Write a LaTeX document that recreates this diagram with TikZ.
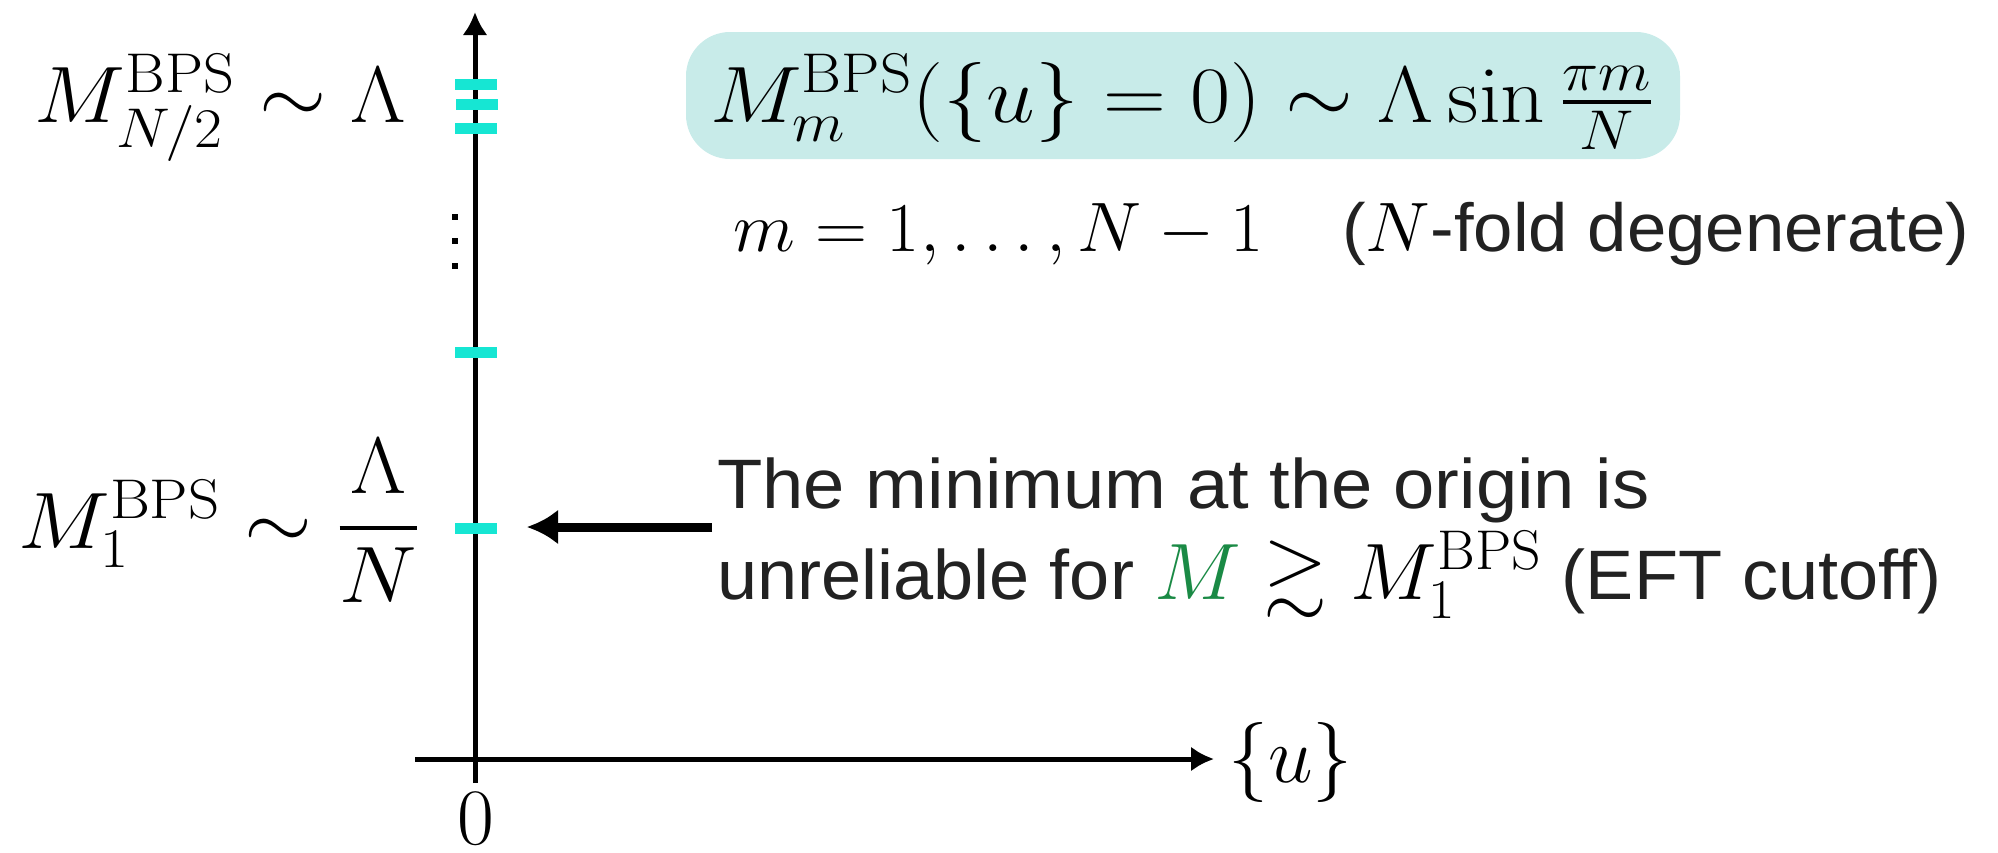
\RequirePackage{fix-cm}
\documentclass[tikz,border=0pt]{standalone}
\usepackage{graphicx}
\usepackage{amsmath,amssymb}
\usepackage[no-math]{fontspec}
\newfontfamily\txtfont{Liberation Sans}
\usetikzlibrary{arrows.meta}
\definecolor{tickc}{HTML}{16E6D3}
\definecolor{boxc}{HTML}{C8EBE9}
\definecolor{mgreen}{HTML}{1A8A45}
\definecolor{txtc}{HTML}{222222}
\newcommand{\mysz}{\fontsize{40}{48}\selectfont}
\newcommand{\midsz}{\fontsize{35}{42}\selectfont}
\newcommand{\xst}[2]{\scalebox{#1}[1]{#2}}
\tikzset{
  mathlbl/.style={inner sep=0pt, font=\mysz},
  sanslbl/.style={inner sep=0pt, text=txtc, font=\fontsize{35}{42}\selectfont\txtfont},
  tickmark/.style={rectangle, fill=tickc, inner sep=0pt, minimum width=21pt, minimum height=5.5pt},
  dotmark/.style={rectangle, fill=black, inner sep=0pt, minimum size=3.2pt},
  axisline/.style={line width=2.5pt, -{Latex[length=11.5pt,width=12.5pt]}},
  pointer/.style={line width=4.5pt, -{Latex[length=15.5pt,width=17.5pt]}},
}
\begin{document}
\begin{tikzpicture}[x=0.5pt,y=-0.5pt]
\useasboundingbox (0,0) rectangle (1998,852);
% axes
\coordinate (vb) at (475,783);
\coordinate (vt) at (475,12);
\coordinate (hl) at (415,759);
\coordinate (hr) at (1214,759);
\draw[axisline] (vb) -- (vt);
\draw[axisline] (hl) -- (hr);
% ticks
\node[tickmark] (t1) at (476,84) {};
\node[tickmark] (t2) at (477,104) {};
\node[tickmark] (t3) at (476,128) {};
\node[tickmark] (t4) at (476,352) {};
\node[tickmark] (t5) at (476,528) {};
% dots
\node[dotmark] (d1) at (455,217) {};
\node[dotmark] (d2) at (455,241) {};
\node[dotmark] (d3) at (455,266) {};
% left labels
\node[mathlbl, anchor=base east] (l1) at (406,122) {\xst{1.08}{$M^{\mathrm{BPS}}_{N/2}\sim\Lambda$}};
\node[mathlbl, anchor=base east] (l2) at (420,548) {\xst{1.09}{$M_1^{\mathrm{BPS}}\sim\dfrac{\Lambda}{N}$}};
% axis labels
\node[mathlbl, anchor=base west] (u) at (1228,782) {$\{u\}$};
\node[mathlbl, anchor=base] (zero) at (476,844) {$0$};
% box formula
\node[fill=boxc, rounded corners=22pt, minimum width=497pt, minimum height=63.5pt, inner sep=0pt] (box) at (1183,95.5) {};
\node[mathlbl, anchor=base] (f) at (1182,122) {\xst{1.09}{$M^{\mathrm{BPS}}_m(\{u\}=0)\sim\Lambda\sin\frac{\pi m}{N}$}};
\node[inner sep=0pt, font=\midsz, anchor=base west] (mr) at (733,251) {\xst{1.03}{$m=1,\dots,N-1$}};
\node[sanslbl, font=\fontsize{34}{41}\selectfont\txtfont, anchor=base west] (deg) at (1342,251) {\xst{1.04}{({\color{black}\midsz$N$}-fold degenerate)}};
% explanatory text
\node[sanslbl, anchor=base west] (txt1) at (717,508) {\xst{1.06}{The minimum at the origin is}};
\node[sanslbl, anchor=base west] (txt2) at (717,599) {\xst{1.03}{unreliable for {\mysz$\color{mgreen}M\color{black}\gtrsim M_1^{\mathrm{BPS}}$} (EFT cutoff)}};
% pointer
\coordinate (ps) at (712,527);
\coordinate (pe) at (527,527);
\draw[pointer] (ps) -- (pe);
\end{tikzpicture}
\end{document}
